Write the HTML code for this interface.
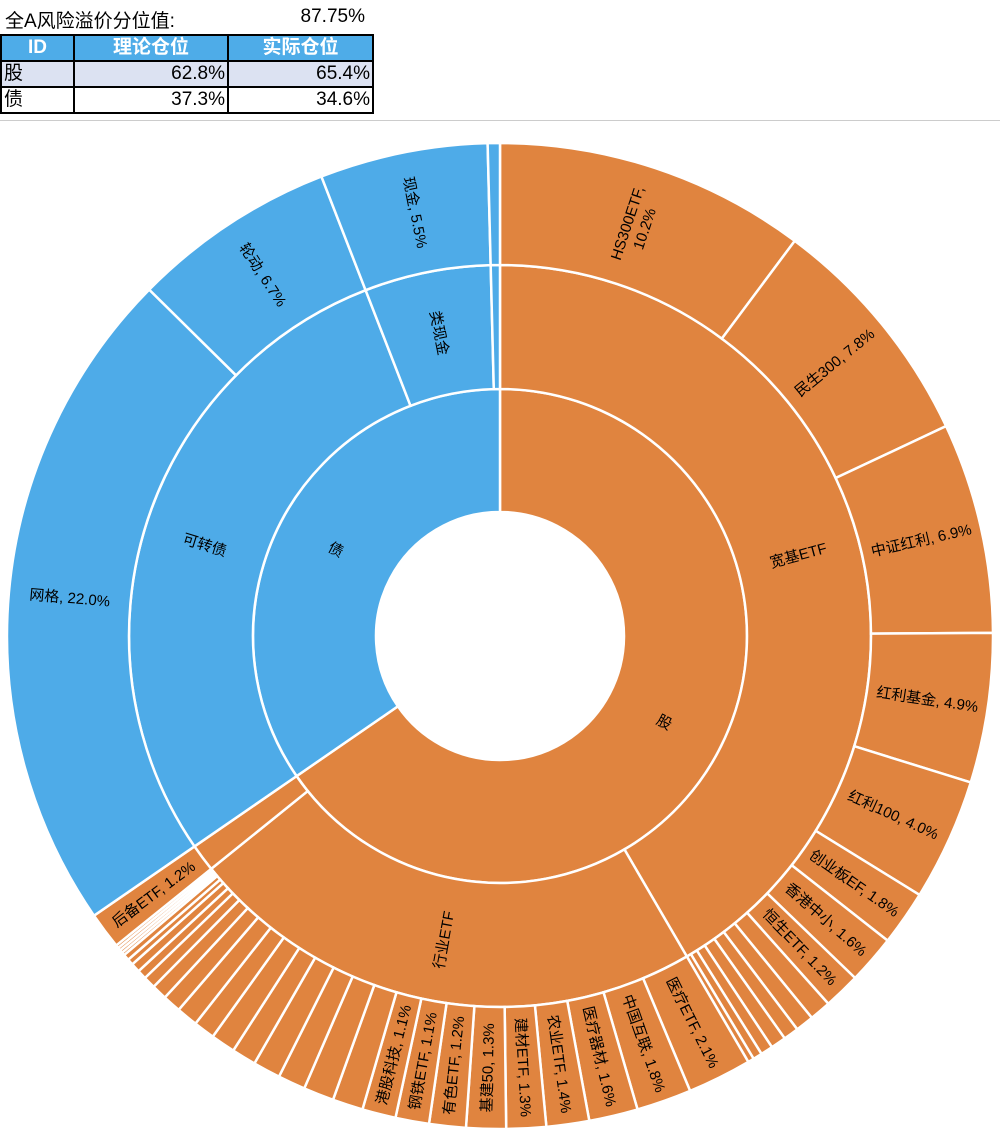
<!DOCTYPE html>
<html><head><meta charset="utf-8">
<style>
body{margin:0;width:1000px;height:1140px;background:#fff;overflow:hidden;font-family:"Liberation Sans","Noto Sans CJK SC",sans-serif;}
#hdr{position:absolute;left:5px;top:6px;font-size:19px;color:#000;}
#hv{position:absolute;left:200px;width:165px;text-align:right;top:6px;font-size:19px;}
table{position:absolute;left:0;top:34px;border-collapse:collapse;font-size:19px;table-layout:fixed;width:372px;}
td{border:2px solid #000;padding:0 2px;height:24px;line-height:24px;overflow:hidden;white-space:nowrap;}
tr.h td{background:#4EACE8;color:#fff;font-weight:bold;text-align:center;}
tr.a td{background:#DCE2F2;}
td.r{text-align:right;}
#line{position:absolute;left:0;top:120px;width:1000px;height:1px;background:#ccc;}
svg{position:absolute;left:0;top:0;}
</style></head><body>
<div id="hdr">全A风险溢价分位值:</div><div id="hv">87.75%</div>
<table>
<colgroup><col style="width:73px"><col style="width:154px"><col style="width:145px"></colgroup>
<tr class="h"><td>ID</td><td>理论仓位</td><td>实际仓位</td></tr>
<tr class="a"><td>股</td><td class="r">62.8%</td><td class="r">65.4%</td></tr>
<tr><td>债</td><td class="r">37.3%</td><td class="r">34.6%</td></tr>
</table>
<div id="line"></div>
<svg id="s" width="1000" height="1140" xmlns="http://www.w3.org/2000/svg"></svg>
<script>
var cx=500,cy=636,R=[124,247,371,493];
var O="#E0843F",B="#4EABE8";
var svg=document.getElementById('s');
var out='';
function pt(r,a){var t=a*Math.PI/180;return [cx+r*Math.sin(t),cy-r*Math.cos(t)];}
function seg(r0,r1,a0,a1,c,label,fs){
 var p1=pt(r1,a0),p2=pt(r1,a1),p3=pt(r0,a1),p4=pt(r0,a0);var lg=(a1-a0)>180?1:0;
 out+='<path d="M'+p1+' A'+r1+','+r1+' 0 '+lg+' 1 '+p2+' L'+p3+' A'+r0+','+r0+' 0 '+lg+' 0 '+p4+' Z" fill="'+c+'" stroke="#fff" stroke-width="2.5"/>';
 if(label){var m=(a0+a1)/2,rm=(r0+r1)/2,p=pt(rm,m);var rot=m<180?m-90:m-270;
  var lines=label.split('|');var t='<text transform="translate('+p[0].toFixed(1)+','+p[1].toFixed(1)+') rotate('+rot.toFixed(1)+')" text-anchor="middle" font-size="'+fs+'" fill="#000">';
  for(var i=0;i<lines.length;i++){var dy=(i-(lines.length-1)/2)*18+5;t+='<tspan x="0" y="'+dy+'">'+lines[i]+'</tspan>';}
  out+=t+'</text>';}
}
function ring(r0,r1,items,c,start,fs){var a=start;items.forEach(function(it){var a1=a+it[0]*3.6;seg(r0,r1,a,a1,it[2]||c,it[1],fs);a=a1;});}
ring(R[0],R[1],[[65.4,'股',O],[34.6,'债',B]],O,0,15);
ring(R[1],R[2],[[41.6,'宽基ETF',O],[22.6,'行业ETF',O],[1.2,'',O],[28.7,'可转债',B],[5.5,'类现金',B],[0.4,'',B]],O,0,15);
var r3=[[10.2,'HS300ETF,|10.2%'],[7.8,'民生300, 7.8%'],[6.9,'中证红利, 6.9%'],[4.9,'红利基金, 4.9%'],[4.0,'红利100, 4.0%'],[1.8,'创业板EF, 1.8%'],[1.6,'香港中小, 1.6%'],[1.2,'恒生ETF, 1.2%'],
[0.7],[0.6],[0.5],[0.5],[0.4],[0.3],[0.2],
[2.1,'医疗ETF, 2.1%'],[1.8,'中国互联, 1.8%'],[1.6,'医疗器材, 1.6%'],[1.4,'农业ETF, 1.4%'],[1.3,'建材ETF, 1.3%'],[1.3,'基建50, 1.3%'],[1.2,'有色ETF, 1.2%'],[1.1,'钢铁ETF, 1.1%'],[1.1,'港股科技, 1.1%'],
[1.0],[1.0],[0.9],[0.9],[0.8],[0.8],[0.7],[0.7],[0.6],[0.5],[0.4],[0.3],[0.3],[0.2],[0.2],[0.1],[0.1],[0.1],[0.1],
[1.2,'后备ETF, 1.2%'],
[22.0,'网格, 22.0%',B],[6.7,'轮动, 6.7%',B],[5.5,'现金, 5.5%',B],[0.4,'',B]];
ring(R[2],R[3],r3,O,0,15);
svg.innerHTML=out;
</script>
</body></html>
